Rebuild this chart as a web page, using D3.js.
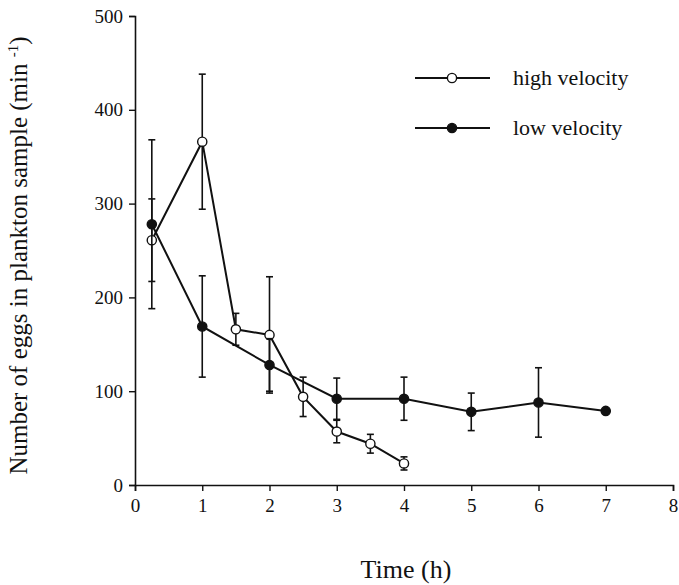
<!DOCTYPE html>
<html>
<head>
<meta charset="utf-8">
<script src="https://cdn.jsdelivr.net/npm/d3@7"></script>
<style>
  body { margin: 0; background: #fff; }
  svg text { font-family: 'Liberation Serif', 'Times New Roman', Times, 'DejaVu Serif', serif; fill: #111; }
</style>
</head>
<body>
<div id="chart"></div>
<script>
  // time (h), mean eggs per min, error (+/-)
  const highTime = [0.25, 1, 1.5, 2, 2.5, 3, 3.5, 4];
  const highMean = [261, 366, 166, 160, 94, 57, 44, 23];
  const highErr = [44, 72, 17, 62, 21, 12, 10, 7];

  const lowTime = [0.25, 1, 2, 3, 4, 5, 6, 7];
  const lowMean = [278, 169, 128, 92, 92, 78, 88, 79];
  const lowErr = [90, 54, 28, 22, 23, 20, 37, 0];

  const xTicks = [0, 1, 2, 3, 4, 5, 6, 7, 8];
  const yTicks = [0, 100, 200, 300, 400, 500];

  const serif = "'Liberation Serif', 'Times New Roman', Times, 'DejaVu Serif', serif";

  const width = 679;
  const height = 585;
  const margin = { top: 16, right: 6, bottom: 100, left: 135 };

  const svg = d3.select('#chart')
    .append('svg')
    .attr('width', width)
    .attr('height', height);

  const xScale = d3.scaleLinear()
    .domain([0, 8])
    .range([margin.left, width - margin.right]);

  const yScale = d3.scaleLinear()
    .domain([0, 500])
    .range([height - margin.bottom, margin.top]);

  // axes
  const xAxis = svg.append('g')
    .attr('transform', `translate(0,${height - margin.bottom})`)
    .call(d3.axisBottom(xScale).tickValues(xTicks).tickSize(6).tickPadding(8).tickFormat(d3.format('d')));
  const yAxis = svg.append('g')
    .attr('transform', `translate(${margin.left},0)`)
    .call(d3.axisLeft(yScale).tickValues(yTicks).tickSize(6).tickPadding(6).tickFormat(d3.format('d')));

  [xAxis, yAxis].forEach(ax => {
    ax.attr('font-family', serif);
    ax.select('.domain').attr('stroke', '#111').attr('stroke-width', 1.6);
    ax.selectAll('.tick line').attr('stroke', '#111').attr('stroke-width', 1.4);
    ax.selectAll('.tick text')
      .style('font-family', serif)
      .style('font-size', '19px')
      .attr('fill', '#111');
  });

  // axis labels
  svg.append('text')
    .attr('x', 406)
    .attr('y', 578)
    .attr('text-anchor', 'middle')
    .style('font-family', serif)
    .style('font-size', '26px')
    .text('Time (h)');

  const yLab = svg.append('text')
    .attr('transform', `translate(27,${(margin.top + height - margin.bottom) / 2 + 5}) rotate(-90)`)
    .attr('text-anchor', 'middle')
    .style('font-family', serif)
    .style('font-size', '25px');
  yLab.append('tspan').text('Number of eggs in plankton sample (min ');
  yLab.append('tspan').attr('dy', -9).style('font-size', '15px').text('-1');
  yLab.append('tspan').attr('dy', 9).text(')');

  const series = [
    { t: highTime, m: highMean, e: highErr, fill: '#fff' },
    { t: lowTime, m: lowMean, e: lowErr, fill: '#111' }
  ];

  const line = d3.line()
    .x(d => xScale(d.t))
    .y(d => yScale(d.m));

  series.forEach(s => {
    const pts = s.t.map((t, i) => ({ t, m: s.m[i], e: s.e[i] }));
    const g = svg.append('g');

    // error bars
    pts.filter(d => d.e > 0).forEach(d => {
      const x = xScale(d.t);
      const y1 = yScale(d.m + d.e);
      const y0 = yScale(d.m - d.e);
      g.append('line').attr('x1', x).attr('x2', x).attr('y1', y1).attr('y2', y0)
        .attr('stroke', '#111').attr('stroke-width', 1.6);
      [y1, y0].forEach(y => {
        g.append('line').attr('x1', x - 3.5).attr('x2', x + 3.5).attr('y1', y).attr('y2', y)
          .attr('stroke', '#111').attr('stroke-width', 1.6);
      });
    });

    g.append('path')
      .datum(pts)
      .attr('d', line)
      .attr('fill', 'none')
      .attr('stroke', '#111')
      .attr('stroke-width', 2);

    g.selectAll('circle')
      .data(pts)
      .join('circle')
      .attr('cx', d => xScale(d.t))
      .attr('cy', d => yScale(d.m))
      .attr('r', 4.6)
      .attr('fill', s.fill)
      .attr('stroke', '#111')
      .attr('stroke-width', 1.4);
  });

  // legend
  const legendItems = [
    { label: 'high velocity', fill: '#fff', y: 78 },
    { label: 'low velocity', fill: '#111', y: 128 }
  ];
  legendItems.forEach(it => {
    svg.append('line').attr('x1', 415).attr('x2', 490).attr('y1', it.y).attr('y2', it.y)
      .attr('stroke', '#111').attr('stroke-width', 2);
    svg.append('circle').attr('cx', 452).attr('cy', it.y).attr('r', 4.6)
      .attr('fill', it.fill).attr('stroke', '#111').attr('stroke-width', 1.4);
    svg.append('text').attr('x', 513).attr('y', it.y + 7)
      .style('font-family', serif)
      .style('font-size', '22px')
      .text(it.label);
  });
</script>
</body>
</html>
